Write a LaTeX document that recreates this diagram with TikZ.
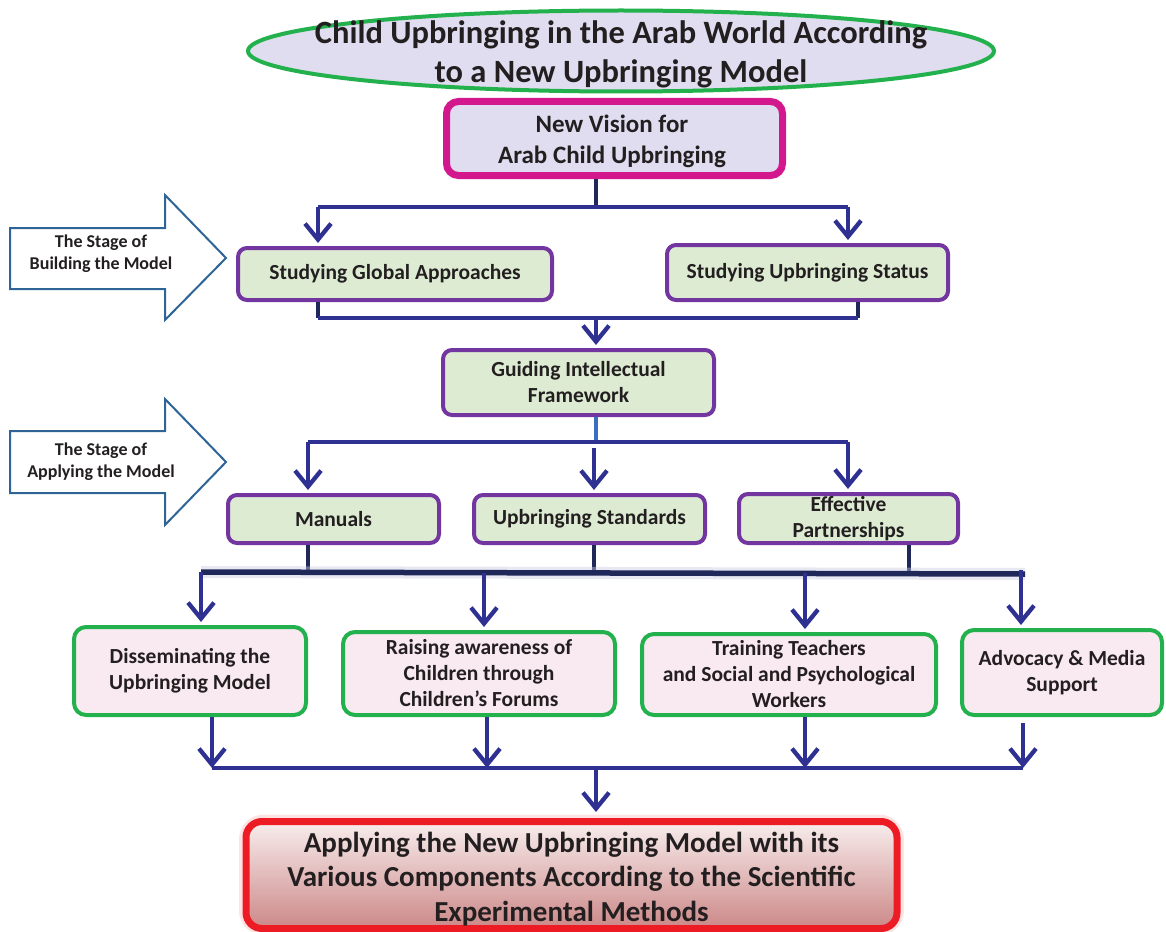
\documentclass[tikz,border=0pt]{standalone}
\usepackage{fontspec}
\setmainfont{Carlito}
\usetikzlibrary{arrows.meta,shapes.geometric}
\definecolor{lav}{HTML}{DFDDEF}
\definecolor{tgreen}{HTML}{22B14C}
\definecolor{magen}{HTML}{D3178C}
\definecolor{purp}{HTML}{7336A0}
\definecolor{lgreen}{HTML}{DDEBD3}
\definecolor{lpink}{HTML}{F9E9F0}
\definecolor{cblue}{HTML}{2E3192}
\definecolor{navy}{HTML}{1F2859}
\definecolor{sblue}{HTML}{3A6EC0}
\definecolor{aline}{HTML}{2F6496}
\definecolor{rred}{HTML}{ED1C24}
\definecolor{txt}{HTML}{231F20}
\definecolor{rtop}{HTML}{F8EDED}
\definecolor{rbot}{HTML}{CC8888}
\begin{document}
\begin{tikzpicture}[x=1pt,y=-1pt,
  every node/.style={text=txt, align=center, inner sep=0pt},
  gbox/.style={draw=purp, line width=4pt, fill=lgreen, rounded corners=9pt,
    font=\bfseries\fontsize{21.5}{26}\selectfont},
  pbox/.style={draw=tgreen, line width=4pt, fill=lpink, rounded corners=12pt,
    font=\bfseries\fontsize{21.5}{26}\selectfont},
  conn/.style={draw=cblue, line width=4.3pt},
  stub/.style={draw=navy, line width=4.5pt},
  arr/.style={conn, -{Straight Barb[length=16pt,width=26pt]}, shorten >=3pt},
  stagearrow/.style={draw=aline, line width=2pt, fill=white},
  stagetext/.style={font=\bfseries\fontsize{18}{22}\selectfont}
]
\useasboundingbox (0,0) rectangle (1166,931);

% title
\node[ellipse, draw=tgreen, line width=4pt, fill=lav, minimum width=746pt, minimum height=81pt] (titleshape) at (621,51) {};
\node[font=\bfseries\fontsize{32.5}{39}\selectfont] (title) at (621,54) {Child Upbringing in the Arab World According\\to a New Upbringing Model};

% vision
\node[draw=magen, line width=7pt, fill=lav, rounded corners=12pt, minimum width=336pt, minimum height=74pt] (vision) at (614.5,138.5) {};
\node[font=\bfseries\fontsize{25}{31}\selectfont] (visiontext) at (612,141) {New Vision for\\Arab Child Upbringing};

% stage arrows
\draw[stagearrow] (10,228) -- (165,228) -- (165,195) -- (226,258) -- (165,320) -- (165,289) -- (10,289) -- cycle;
\node[stagetext] (stage1) at (101,254) {The Stage of\\Building the Model};
\draw[stagearrow] (10,431) -- (165,431) -- (165,399) -- (226,462) -- (165,525) -- (165,493) -- (10,493) -- cycle;
\node[stagetext] (stage2) at (101,462) {The Stage of\\Applying the Model};

% second level
\node[gbox, minimum width=314pt, minimum height=52pt] (global) at (395,274) {Studying Global Approaches};
\node[gbox, minimum width=281pt, minimum height=55pt] (status) at (807.5,272.5) {Studying Upbringing Status};
\node[gbox, minimum width=271pt, minimum height=65pt] (guiding) at (578.5,382.5) {Guiding Intellectual\\Framework};

% third level
\node[gbox, minimum width=211pt, minimum height=48pt] (manuals) at (333.5,519) {Manuals};
\node[gbox, minimum width=231pt, minimum height=48pt] (standards) at (589.5,519) {Upbringing Standards};
\node[gbox, minimum width=219pt, minimum height=49pt] (partner) at (848.5,518.5) {Effective\\Partnerships};

% fourth level
\node[pbox, minimum width=232pt, minimum height=88pt] (dissem) at (190,671) {Disseminating the\\Upbringing Model};
\node[pbox, minimum width=272pt, minimum height=83pt] (raising) at (479,673.5) {Raising awareness of\\Children through\\Children’s Forums};
\node[pbox, minimum width=294pt, minimum height=81pt] (training) at (789,674.5) {Training Teachers\\and Social and Psychological\\Workers};
\node[pbox, minimum width=200pt, minimum height=85pt] (advocacy) at (1062,672.5) {Advocacy \& Media\\Support};

% final
\node[draw=rred!35, line width=14pt, rounded corners=18pt, minimum width=651pt, minimum height=107pt, opacity=0.35] (glow) at (571.5,875) {};
\node[draw=rred, line width=7pt, top color=rtop, bottom color=rbot, rounded corners=16pt, minimum width=651pt, minimum height=107pt] (final) at (571.5,875) {};
\node[font=\bfseries\fontsize{29}{34.5}\selectfont] (finaltext) at (571.5,879) {Applying the New Upbringing Model with its\\Various Components According to the Scientific\\Experimental Methods};

% connectors level 1
\coordinate (j1) at (596,207);
\coordinate (j1l) at (318,207);
\coordinate (j1r) at (848,207);
\draw[stub] (vision.south -| j1) -- (j1);
\draw[conn] (j1l) -- (j1r);
\draw[arr] (j1l) -- (global.north -| j1l);
\draw[arr] (j1r) -- (status.north -| j1r);

% connectors level 2
\coordinate (j2l) at (318,318);
\coordinate (j2r) at (858,318);
\coordinate (j2) at (596,318);
\draw[stub] (global.south -| j2l) -- (j2l);
\draw[stub] (status.south -| j2r) -- (j2r);
\draw[conn] (j2l) -- (j2r);
\draw[arr] (j2) -- (guiding.north -| j2);

% connectors level 3
\coordinate (j3) at (596,442);
\coordinate (j3l) at (308,442);
\coordinate (j3r) at (848,442);
\coordinate (j3m) at (594,448);
\draw[draw=sblue, line width=4.5pt] (guiding.south -| j3) -- (j3);
\draw[conn] (j3l) -- (j3r);
\draw[arr] (j3l) -- (manuals.north -| j3l);
\draw[arr] (j3r) -- (partner.north -| j3r);
\draw[arr] (j3m) -- (standards.north -| j3m);

% connectors level 4
\coordinate (b1) at (201,572);
\coordinate (b2) at (1025,574);
\coordinate (s1) at (308,572);
\coordinate (s2) at (594,573);
\coordinate (s3) at (909,574);
\draw[stub] (manuals.south -| s1) -- (s1);
\draw[stub] (standards.south -| s2) -- (s2);
\draw[stub] (partner.south -| s3) -- (s3);
\draw[draw=cblue!25, line width=12pt, opacity=0.45] (b1) -- (b2);
\draw[draw=navy, line width=5.5pt] (b1) -- (b2);
\coordinate (a1) at (201,572);
\coordinate (a2) at (484,573);
\coordinate (a3) at (805,573);
\coordinate (a4) at (1021,570);
\draw[arr] (a1) -- (dissem.north -| a1);
\draw[arr] (a2) -- (raising.north -| a2);
\draw[arr] (a3) -- (training.north -| a3);
\draw[arr] (a4) -- (advocacy.north -| a4);

% connectors level 5
\coordinate (c1) at (212,768);
\coordinate (c2) at (487,768);
\coordinate (c3) at (805,768);
\coordinate (c4) at (1023,768);
\coordinate (c0) at (596,768);
\draw[conn] (c1) -- (c4);
\draw[arr, shorten >=0pt] (dissem.south -| c1) -- (c1);
\draw[arr, shorten >=0pt] (raising.south -| c2) -- (c2);
\draw[arr, shorten >=0pt] (training.south -| c3) -- (c3);
\draw[arr, shorten >=0pt] ([yshift=-6pt]advocacy.south -| c4) -- (c4);
\draw[arr, shorten >=6pt] (c0) -- (final.north -| c0);
\end{tikzpicture}
\end{document}
